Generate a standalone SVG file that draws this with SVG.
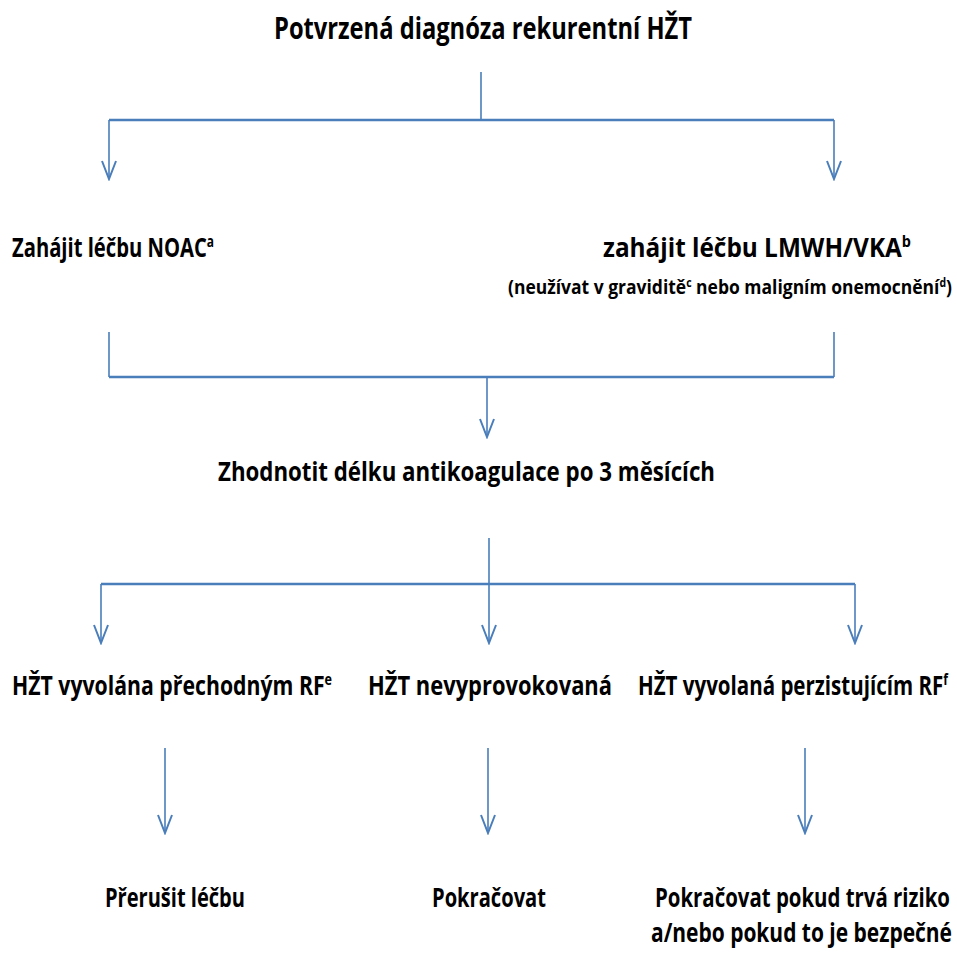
<svg xmlns="http://www.w3.org/2000/svg" width="957" height="953" viewBox="0 0 957 953">
<style>
text{font-family:"Open Sans","Liberation Sans",sans-serif;font-weight:700;fill:#000;}
.t{font-size:31px;}
.n{font-size:27px;}
.s{font-size:20px;}
.c{fill:none;stroke:#4a7ebb;stroke-width:1.6;}
.h{fill:none;stroke:#4a7ebb;stroke-width:2.4;}
.a{fill:none;stroke:#4a7ebb;stroke-width:1.6;marker-end:url(#arr);}
</style>
<defs>
<marker id="arr" markerUnits="userSpaceOnUse" viewBox="-20 -9 22 18" refX="0" refY="0" markerWidth="22" markerHeight="18" orient="auto">
<path d="M-18,-7 L0,0 L-18,7" fill="none" stroke="#4a7ebb" stroke-width="2"/>
</marker>
</defs>
<rect width="957" height="953" fill="#fff"/>
<g id="connectors">
<path class="c" d="M481,72 V119"/>
<path class="h" d="M109,120 H834"/>
<path class="a" d="M109,120 V179"/>
<path class="a" d="M834,120 V179"/>
<path class="c" d="M109,332 V377"/>
<path class="c" d="M834,332 V377"/>
<path class="h" d="M109,377 H834"/>
<path class="a" d="M487,377 V437"/>
<path class="c" d="M489,538 V584"/>
<path class="h" d="M101,584 H855"/>
<path class="a" d="M101,584 V643"/>
<path class="a" d="M489,584 V643"/>
<path class="a" d="M855,584 V643"/>
<path class="a" d="M165,748 V833"/>
<path class="a" d="M488,748 V833"/>
<path class="a" d="M805,748 V833"/>
</g>
<g id="title"><text class="t" x="274" y="39" textLength="418" lengthAdjust="spacingAndGlyphs">Potvrzená diagnóza rekurentní HŽT</text></g>
<g id="noac"><text class="n" x="12" y="257" textLength="202" lengthAdjust="spacingAndGlyphs">Zahájit léčbu NOAC<tspan font-size="16" dy="-10">a</tspan></text></g>
<g id="lmwh">
<text class="n" x="603" y="257" textLength="308" lengthAdjust="spacingAndGlyphs">zahájit léčbu LMWH/VKA<tspan font-size="16" dy="-10">b</tspan></text>
<text class="s" x="508" y="294" textLength="444" lengthAdjust="spacingAndGlyphs">(neužívat v graviditě<tspan font-size="12" dy="-7">c</tspan><tspan dy="7"> nebo maligním onemocnění</tspan><tspan font-size="12" dy="-7">d</tspan><tspan dy="7">)</tspan></text>
</g>
<g id="zhodnotit"><text class="n" x="218" y="481" textLength="497" lengthAdjust="spacingAndGlyphs">Zhodnotit délku antikoagulace po 3 měsících</text></g>
<g id="prechodny"><text class="n" x="12" y="695" textLength="320" lengthAdjust="spacingAndGlyphs">HŽT vyvolána přechodným RF<tspan font-size="16" dy="-10">e</tspan></text></g>
<g id="nevyprovokovana"><text class="n" x="368" y="695" textLength="244" lengthAdjust="spacingAndGlyphs">HŽT nevyprovokovaná</text></g>
<g id="perzistujici"><text class="n" x="638" y="695" textLength="310" lengthAdjust="spacingAndGlyphs">HŽT vyvolaná perzistujícím RF<tspan font-size="16" dy="-10">f</tspan></text></g>
<g id="prerusit"><text class="n" x="105" y="907" textLength="140" lengthAdjust="spacingAndGlyphs">Přerušit léčbu</text></g>
<g id="pokracovat"><text class="n" x="432" y="907" textLength="114" lengthAdjust="spacingAndGlyphs">Pokračovat</text></g>
<g id="pokracovat-riziko">
<text class="n" x="655" y="907" textLength="295" lengthAdjust="spacingAndGlyphs">Pokračovat pokud trvá riziko</text>
<text class="n" x="651" y="942" textLength="301" lengthAdjust="spacingAndGlyphs">a/nebo pokud to je bezpečné</text>
</g>
</svg>
